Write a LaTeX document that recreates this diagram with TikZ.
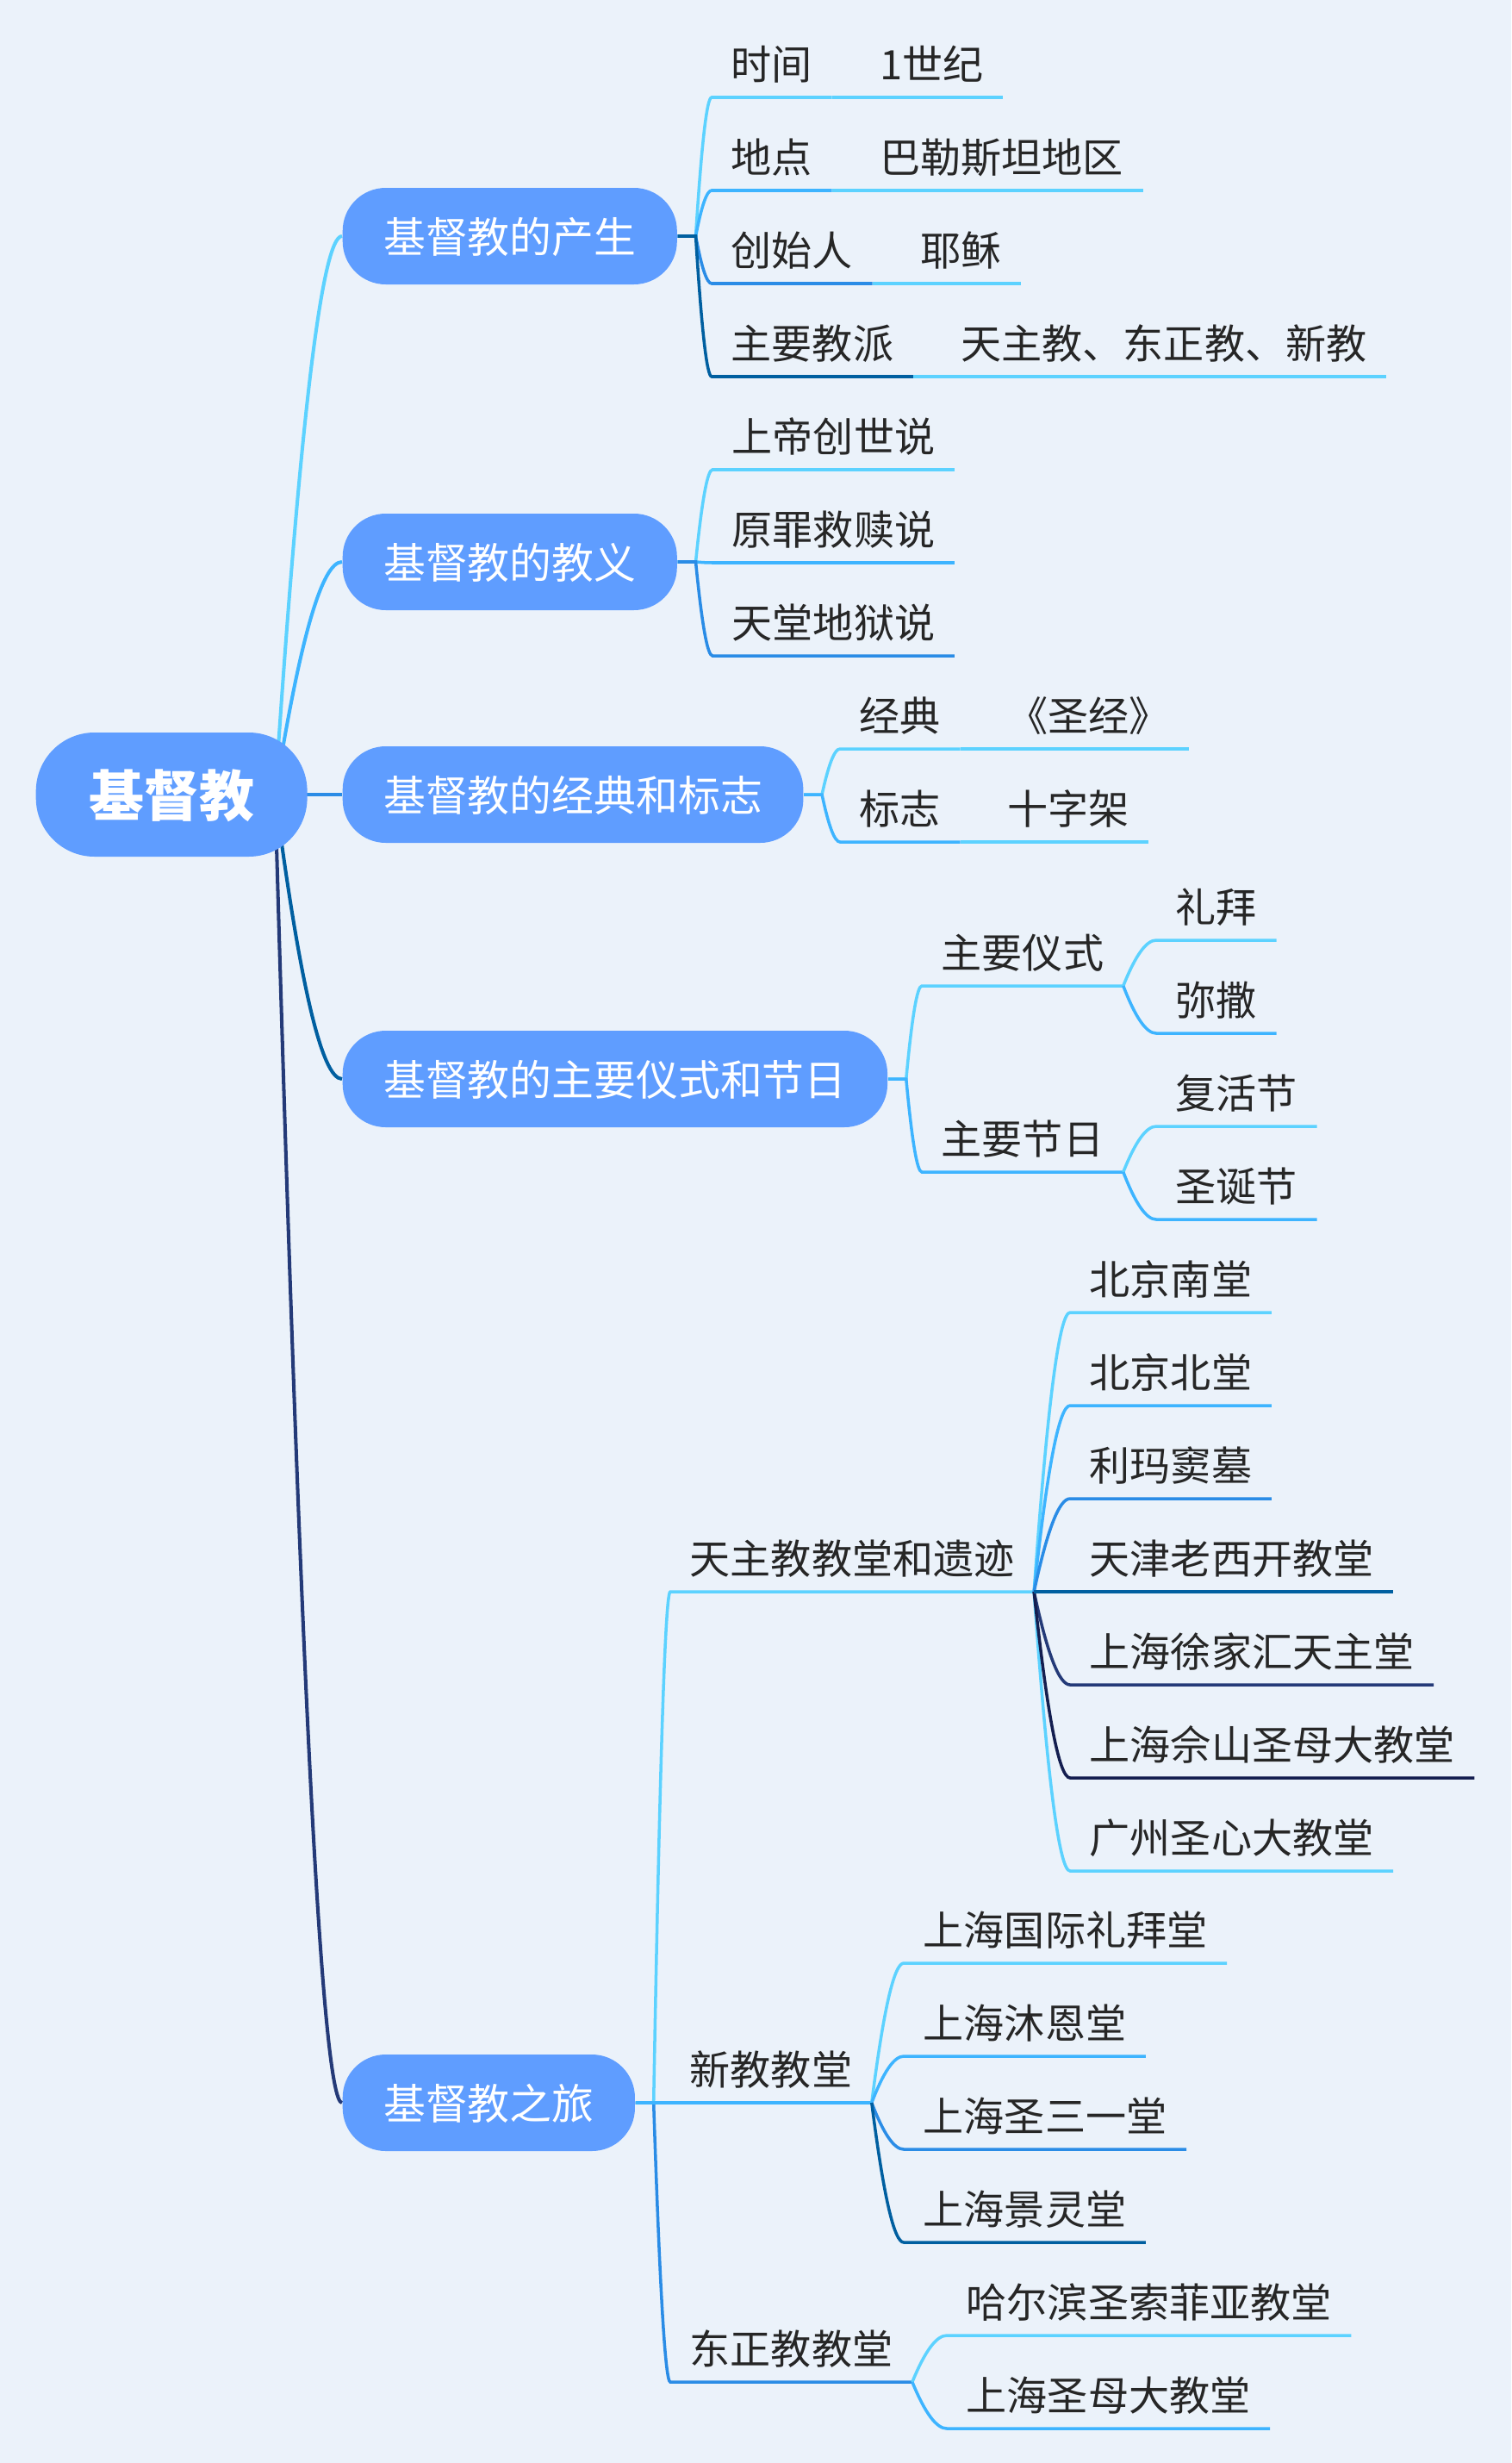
\documentclass[tikz,border=0pt]{standalone}
\usepackage{fontspec}
\setmainfont{Noto Sans CJK SC}
\usetikzlibrary{positioning, calc}
\definecolor{bgpaper}{RGB}{235,242,250}
\definecolor{topicblue}{RGB}{95,157,255}
\definecolor{inkgray}{RGB}{38,38,38}
\definecolor{br1}{RGB}{92,210,255}
\definecolor{br2}{RGB}{61,180,255}
\definecolor{br3}{RGB}{42,140,230}
\definecolor{br4}{RGB}{0,95,160}
\definecolor{br5}{RGB}{36,58,120}
\definecolor{br6}{RGB}{20,30,80}
\pgfdeclarelayer{paper}
\pgfdeclarelayer{wires}
\pgfsetlayers{paper,wires,main}

\begin{document}
\begin{tikzpicture}[
  rootb/.style={fill=topicblue, rounded corners=0.68cm, text=white,
                font=\fontsize{18.2pt}{22pt}\selectfont\bfseries,
                minimum height=1.44cm, inner xsep=0.615cm, text height=0.6cm, text depth=0.1cm},
  topicb/.style={fill=topicblue, rounded corners=0.5cm, text=white,
                 font=\fontsize{13.9pt}{17pt}\selectfont, anchor=west,
                 minimum height=1.12cm, inner xsep=0.475cm, text height=0.45cm, text depth=0.07cm},
  leafb/.style={text=inkgray, font=\fontsize{13.4pt}{16pt}\selectfont, anchor=south west,
                inner xsep=0.22cm, inner ysep=0pt, text height=0.5cm, text depth=0.2cm},
  wire/.style={line width=1pt},
  fan/.style={to path={let \p1=(\tikztostart), \p2=(\tikztotarget) in
      .. controls ({\x1+0.37*(\x2-\x1)},{\y1+0.67*(\y2-\y1)}) and ({\x2-0.3*(\x2-\x1)},\y2) .. (\tikztotarget)}},
]
% Paper
\useasboundingbox (0,0) rectangle (17.54,-28.58);
\begin{pgfonlayer}{paper}
  \fill[bgpaper] (0,0) rectangle (17.54,-28.58);
\end{pgfonlayer}

% Central topic
\node[rootb, anchor=west] (root) at (0.41,-9.22) {基督教};
\coordinate (hub) at ([xshift=-0.38cm]root.east);

% Main topics
\node[topicb] (origin)   at (3.97,-2.74)  {基督教的产生};
\node[topicb] (doctrine) at (3.97,-6.52)  {基督教的教义};
\node[topicb] (canon)    at (3.97,-9.22)  {基督教的经典和标志};
\node[topicb] (rites)    at (3.97,-12.52) {基督教的主要仪式和节日};
\node[topicb] (tour)     at (3.97,-24.40) {基督教之旅};

\coordinate (origin-o)   at ([xshift=0.21cm]origin.east);
\coordinate (doctrine-o) at ([xshift=0.21cm]doctrine.east);
\coordinate (canon-o)    at ([xshift=0.21cm]canon.east);
\coordinate (rites-o)    at ([xshift=0.21cm]rites.east);
\coordinate (tour-o)     at ([xshift=0.21cm]tour.east);

% Origin
\node[leafb] (time)    at (8.26,-1.13) {时间};
\node[leafb] (place)   at (8.26,-2.21) {地点};
\node[leafb] (founder) at (8.26,-3.29) {创始人};
\node[leafb] (sect)    at (8.26,-4.37) {主要教派};
\node[leafb, right=0.33cm of time]    (time-x)    {1世纪};
\node[leafb, right=0.33cm of place]   (place-x)   {巴勒斯坦地区};
\node[leafb, right=0.33cm of founder] (founder-x) {耶稣};
\node[leafb, right=0.33cm of sect]    (sect-x)    {天主教、东正教、新教};

% Doctrine
\node[leafb] (creation) at (8.27,-5.45) {上帝创世说};
\node[leafb] (sin)      at (8.27,-6.53) {原罪救赎说};
\node[leafb] (heaven)   at (8.27,-7.61) {天堂地狱说};

% Canon and symbol
\node[leafb] (scripture) at (9.75,-8.69) {经典};
\node[leafb] (symbol)    at (9.75,-9.77) {标志};
\node[leafb, right=0.32cm of scripture] (scripture-x) {《圣经》};
\node[leafb, right=0.32cm of symbol]    (symbol-x)    {十字架};

% Rites and feasts
\node[leafb] (rite)   at (10.70,-11.44) {主要仪式};
\node[leafb] (feast)  at (10.70,-13.60) {主要节日};
\node[leafb] (prayer) at (13.42,-10.91) {礼拜};
\node[leafb] (mass)   at (13.42,-11.99) {弥撒};
\node[leafb] (easter) at (13.42,-13.07) {复活节};
\node[leafb] (xmas)   at (13.42,-14.15) {圣诞节};

% Tour
\node[leafb] (cath)   at (7.78,-18.47) {天主教教堂和遗迹};
\node[leafb] (prot)   at (7.78,-24.40) {新教教堂};
\node[leafb] (orth)   at (7.78,-27.64) {东正教教堂};

\node[leafb] (cath1) at (12.42,-15.23) {北京南堂};
\node[leafb] (cath2) at (12.42,-16.31) {北京北堂};
\node[leafb] (cath3) at (12.42,-17.39) {利玛窦墓};
\node[leafb] (cath4) at (12.42,-18.47) {天津老西开教堂};
\node[leafb] (cath5) at (12.42,-19.55) {上海徐家汇天主堂};
\node[leafb] (cath6) at (12.42,-20.63) {上海佘山圣母大教堂};
\node[leafb] (cath7) at (12.42,-21.71) {广州圣心大教堂};

\node[leafb] (prot1) at (10.49,-22.78) {上海国际礼拜堂};
\node[leafb] (prot2) at (10.49,-23.86) {上海沐恩堂};
\node[leafb] (prot3) at (10.49,-24.94) {上海圣三一堂};
\node[leafb] (prot4) at (10.49,-26.02) {上海景灵堂};

\node[leafb] (orth1) at (10.99,-27.10) {哈尔滨圣索菲亚教堂};
\node[leafb] (orth2) at (10.99,-28.18) {上海圣母大教堂};

\begin{pgfonlayer}{wires}
% Root branches
\draw[wire, line width=1.15pt, br1] (hub) to[fan] (origin.west);
\draw[wire, line width=1.15pt, br2] (hub) to[fan] (doctrine.west);
\draw[wire, line width=1.15pt, br3] (hub) to[fan] (canon.west);
\draw[wire, line width=1.15pt, br4] (hub) to[fan] (rites.west);
\draw[wire, line width=1.15pt, br5] (hub) to[fan] (tour.west);

% Origin branches
\draw[wire, br1] (origin.east) -- (origin-o) to[fan] (time.south west) -- (time.south east);
\draw[wire, br2] (origin.east) -- (origin-o) to[fan] (place.south west) -- (place.south east);
\draw[wire, br3] (origin.east) -- (origin-o) to[fan] (founder.south west) -- (founder.south east);
\draw[wire, br4] (origin.east) -- (origin-o) to[fan] (sect.south west) -- (sect.south east);
\draw[wire, br1] (time.south east) -- (time-x.south west) -- (time-x.south east);
\draw[wire, br1] (place.south east) -- (place-x.south west) -- (place-x.south east);
\draw[wire, br1] (founder.south east) -- (founder-x.south west) -- (founder-x.south east);
\draw[wire, br1] (sect.south east) -- (sect-x.south west) -- (sect-x.south east);

% Doctrine branches
\draw[wire, br1] (doctrine.east) -- (doctrine-o) to[fan] (creation.south west) -- (creation.south east);
\draw[wire, br2] (doctrine.east) -- (doctrine-o) to[fan] (sin.south west) -- (sin.south east);
\draw[wire, br3] (doctrine.east) -- (doctrine-o) to[fan] (heaven.south west) -- (heaven.south east);

% Canon branches
\draw[wire, br1] (canon.east) -- (canon-o) to[fan] (scripture.south west) -- (scripture.south east);
\draw[wire, br2] (canon.east) -- (canon-o) to[fan] (symbol.south west) -- (symbol.south east);
\draw[wire, br1] (scripture.south east) -- (scripture-x.south west) -- (scripture-x.south east);
\draw[wire, br1] (symbol.south east) -- (symbol-x.south west) -- (symbol-x.south east);

% Rites branches
\draw[wire, br1] (rites.east) -- (rites-o) to[fan] (rite.south west) -- (rite.south east);
\draw[wire, br2] (rites.east) -- (rites-o) to[fan] (feast.south west) -- (feast.south east);
\draw[wire, br1] (rite.south east) to[fan] (prayer.south west) -- (prayer.south east);
\draw[wire, br2] (rite.south east) to[fan] (mass.south west) -- (mass.south east);
\draw[wire, br1] (feast.south east) to[fan] (easter.south west) -- (easter.south east);
\draw[wire, br2] (feast.south east) to[fan] (xmas.south west) -- (xmas.south east);

% Tour branches
\draw[wire, br1] (tour.east) -- (tour-o) to[fan] (cath.south west) -- (cath.south east);
\draw[wire, br3] (tour.east) -- (tour-o) to[fan] (orth.south west) -- (orth.south east);
\draw[wire, br2] (tour.east) -- (tour-o) to[fan] (prot.south west) -- (prot.south east);

\draw[wire, br1] (cath.south east) to[fan] (cath1.south west) -- (cath1.south east);
\draw[wire, br2] (cath.south east) to[fan] (cath2.south west) -- (cath2.south east);
\draw[wire, br3] (cath.south east) to[fan] (cath3.south west) -- (cath3.south east);
\draw[wire, br1] (cath.south east) to[fan] (cath7.south west) -- (cath7.south east);
\draw[wire, br5] (cath.south east) to[fan] (cath5.south west) -- (cath5.south east);
\draw[wire, br6] (cath.south east) to[fan] (cath6.south west) -- (cath6.south east);
\draw[wire, br4] (cath.south east) to[fan] (cath4.south west) -- (cath4.south east);

\draw[wire, br1] (prot.south east) to[fan] (prot1.south west) -- (prot1.south east);
\draw[wire, br2] (prot.south east) to[fan] (prot2.south west) -- (prot2.south east);
\draw[wire, br3] (prot.south east) to[fan] (prot3.south west) -- (prot3.south east);
\draw[wire, br4] (prot.south east) to[fan] (prot4.south west) -- (prot4.south east);

\draw[wire, br1] (orth.south east) to[fan] (orth1.south west) -- (orth1.south east);
\draw[wire, br2] (orth.south east) to[fan] (orth2.south west) -- (orth2.south east);
\end{pgfonlayer}
\end{tikzpicture}
\end{document}
